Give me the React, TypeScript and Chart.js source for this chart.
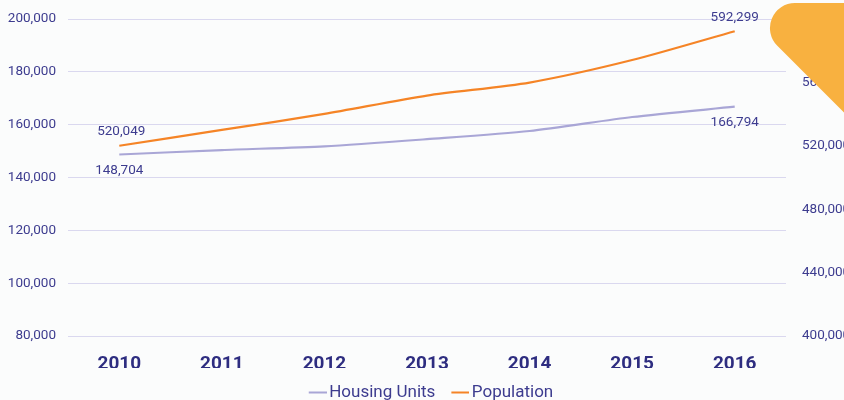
import React, { useEffect, useRef } from "react";
import { Chart, registerables } from "chart.js";

Chart.register(...registerables);

const years = ["2010", "2011", "2012", "2013", "2014", "2015", "2016"];
const housingUnits = [148704, 150400, 151800, 154500, 157600, 162900, 166794];
const population = [520049, 530000, 540100, 551700, 559900, 574100, 592299];
const leftTicks = { min: 80000, max: 200000, step: 20000 };
const rightTicks = { min: 400000, max: 600000, step: 40000 };

const TEXT = "#3d3c8f";
const XTEXT = "#2e2d80";
const GRID = "#dad8ef";
const ORANGE = "#f58426";
const LAVENDER = "#a9a6d6";
const BG = "#fbfcfc";

const fmt = (v: number) => Number(v).toLocaleString("en-US");

function legendLine(color: string) {
  const c = document.createElement("canvas");
  c.width = 24;
  c.height = 4;
  const g = c.getContext("2d")!;
  g.strokeStyle = color;
  g.lineWidth = 2;
  g.beginPath();
  g.moveTo(6, 2);
  g.lineTo(24, 2);
  g.stroke();
  return c;
}

const endLabels = {
  id: "endLabels",
  afterDatasetsDraw(chart: any) {
    const ctx = chart.ctx;
    ctx.save();
    ctx.font = "13.5px Roboto";
    ctx.fillStyle = TEXT;
    ctx.textAlign = "center";
    ctx.textBaseline = "middle";
    chart.data.datasets.forEach((ds: any, di: number) => {
      const meta = chart.getDatasetMeta(di);
      const n = ds.data.length;
      [0, n - 1].forEach((i) => {
        const el = meta.data[i];
        const off = ds.labelPos === "above" ? -14 : 16;
        ctx.fillText(fmt(ds.data[i]), el.x + (i === 0 && ds.labelPos === "above" ? 2 : 0), el.y + off);
      });
    });
    ctx.restore();
  },
};

export default function App() {
  const ref = useRef<HTMLCanvasElement>(null);
  useEffect(() => {
    if (!ref.current) return;
    const chart = new Chart(ref.current, {
      type: "line",
      data: {
        labels: years,
        datasets: [
          {
            label: "Housing Units",
            data: housingUnits,
            borderColor: LAVENDER,
            backgroundColor: LAVENDER,
            borderWidth: 2.2,
            pointRadius: 0,
            pointStyle: legendLine(LAVENDER),
            tension: 0.25,
            yAxisID: "y",
            labelPos: "below",
          } as any,
          {
            label: "Population",
            data: population,
            borderColor: ORANGE,
            backgroundColor: ORANGE,
            borderWidth: 2.2,
            pointRadius: 0,
            pointStyle: legendLine(ORANGE),
            tension: 0.25,
            yAxisID: "y1",
            labelPos: "above",
          } as any,
        ],
      },
      options: {
        responsive: false,
        animation: false,
        layout: { padding: { top: 19, left: 0, right: 8, bottom: 0 } },
        plugins: {
          tooltip: { enabled: false },
          legend: {
            position: "bottom",
            labels: {
              usePointStyle: true,
              pointStyleWidth: 12,
              color: TEXT,
              font: { family: "Roboto", size: 17 },
              padding: 16,
            },
          },
        },
        scales: {
          x: {
            offset: true,
            grid: { display: false, drawTicks: false },
            border: { display: false },
            ticks: {
              color: XTEXT,
              font: { family: "Roboto", size: 19, weight: "bold" },
              padding: 17,
            },
            afterFit: (s: any) => {
              s.height = 32;
            },
          },
          y: {
            position: "left",
            min: leftTicks.min,
            max: leftTicks.max,
            grid: {
              color: GRID,
              drawTicks: true,
              tickLength: 10,
              tickColor: "rgba(0,0,0,0)",
            },
            border: { display: false },
            ticks: {
              stepSize: leftTicks.step,
              color: TEXT,
              font: { family: "Roboto", size: 13.5 },
              padding: 2,
              callback: (v: any) => fmt(v),
            },
            afterFit: (s: any) => {
              s.width = 68;
            },
          },
          y1: {
            position: "right",
            min: rightTicks.min,
            max: rightTicks.max,
            grid: {
              display: true,
              color: "rgba(0,0,0,0)",
              drawOnChartArea: false,
              drawTicks: true,
              tickLength: 14,
              tickColor: "rgba(0,0,0,0)",
            },
            border: { display: false },
            ticks: {
              stepSize: rightTicks.step,
              color: TEXT,
              font: { family: "Roboto", size: 13.5 },
              padding: 2,
              callback: (v: any) => fmt(v),
            },
            afterFit: (s: any) => {
              s.width = 76;
            },
          },
        },
      } as any,
      plugins: [endLabels],
    });
    return () => chart.destroy();
  }, []);

  return (
    <div
      style={{
        position: "absolute",
        left: 0,
        top: 0,
        width: 844,
        height: 400,
        overflow: "hidden",
        background: BG,
      }}
    >
      <canvas
        ref={ref}
        width={870}
        height={411}
        style={{ position: "absolute", left: 0, top: 0, width: 870, height: 411 }}
      />
      <svg
        width={844}
        height={400}
        style={{ position: "absolute", left: 0, top: 0, pointerEvents: "none" }}
      >
        <path
          d="M 850 3 L 795 3 A 25 25 0 0 0 777.3 45.7 L 850 118.4 Z"
          fill="#f8b140"
        />
      </svg>
    </div>
  );
}
